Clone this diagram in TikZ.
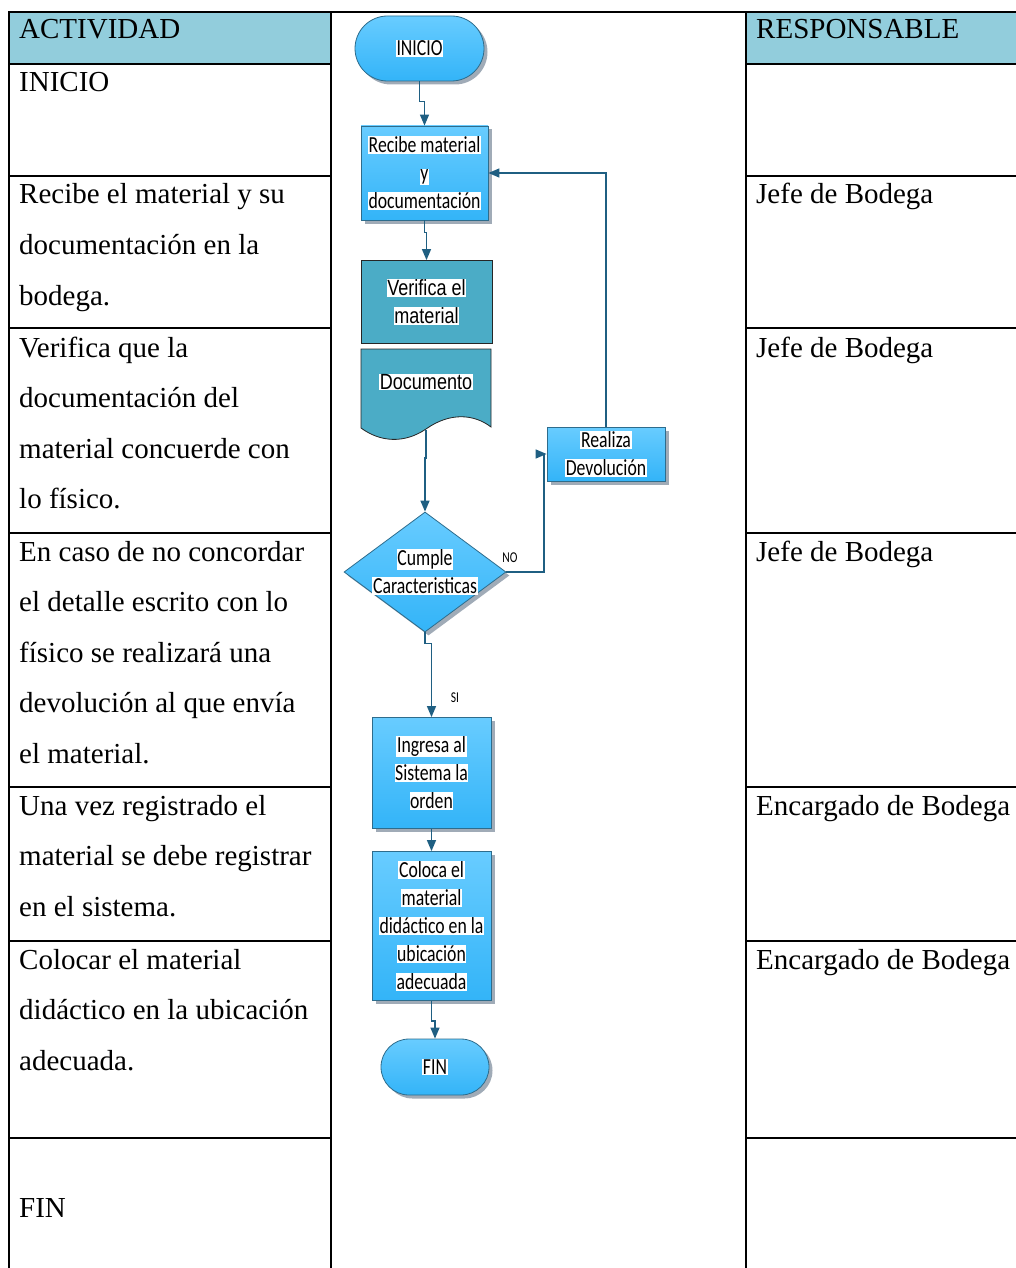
\documentclass[tikz,border=0pt]{standalone}
\usepackage{fontspec}
\setmainfont{Liberation Serif}
\newfontfamily\flowfont[FakeStretch=0.77]{Carlito}
\newfontfamily\narrowfont[FakeStretch=0.82]{Liberation Sans}
\usetikzlibrary{arrows.meta,shapes.geometric,shapes.misc,shadows}

\definecolor{headfill}{RGB}{146,205,220}
\definecolor{boxtop}{RGB}{104,204,255}
\definecolor{boxbot}{RGB}{51,180,248}
\definecolor{boxline}{RGB}{46,108,140}
\definecolor{connline}{RGB}{31,95,130}
\definecolor{tealfill}{RGB}{75,172,198}
\definecolor{shadowgrey}{RGB}{150,162,175}

\setlength{\fboxsep}{0.6pt}
\newcommand\hl[1]{\colorbox{white}{#1}}

\begin{document}
\begin{tikzpicture}[x=1pt,y=-1pt,
  tableline/.style={line width=2pt},
  celltext/.style={anchor=base west, inner sep=0pt, font=\fontsize{29}{50.6}\selectfont},
  flowtext/.style={font=\flowfont\fontsize{23}{28}\selectfont, align=center, inner sep=0pt},
  shadowed/.style={drop shadow={shadow xshift=3.5pt, shadow yshift=-3.5pt, fill=shadowgrey, opacity=0.9}},
  bluefill/.style={draw=boxline, line width=0.8pt, top color=boxtop, bottom color=boxbot, shadowed},
  bluebox/.style={flowtext, rectangle, bluefill},
  terminal/.style={flowtext, rounded rectangle, bluefill},
  tealbox/.style={rectangle, draw=black!85, line width=0.8pt, fill=tealfill, align=center, inner sep=0pt,
    font=\narrowfont\fontsize{22}{28}\selectfont},
  conn/.style={draw=connline, line width=1.4pt, -{Triangle[length=11pt,width=9pt]}},
  branchlbl/.style={font=\flowfont\fontsize{15}{18}\selectfont, inner sep=0pt}
]
\useasboundingbox (0,0) rectangle (1016,1268);

% ---- table: header fills ----
\fill[headfill] (9,12) rectangle (331,64);
\fill[headfill] (746,12) rectangle (1016,64);

% ---- table: rules ----
\draw[tableline] (8,12) -- (1016,12);
\draw[tableline] (9,12) -- (9,1268);
\draw[tableline] (331,12) -- (331,1268);
\draw[tableline] (746,12) -- (746,1268);
\foreach \yy in {64,176,328,533,787,941,1138}{
  \draw[tableline] (9,\yy) -- (331,\yy);
  \draw[tableline] (746,\yy) -- (1016,\yy);
}

% ---- table: activity column ----
\node[celltext] (acth) at (19,39) {ACTIVIDAD};
\node[celltext] (act1) at (19,92) {INICIO};
\node[celltext] (act2) at (19,204) {\parbox[t]{310pt}{Recibe el material y su\\documentación en la\\bodega.}};
\node[celltext] (act3) at (19,357) {\parbox[t]{310pt}{Verifica que la\\documentación del\\material concuerde con\\lo físico.}};
\node[celltext] (act4) at (19,561) {\parbox[t]{310pt}{En caso de no concordar\\el detalle escrito con lo\\físico se realizará una\\devolución al que envía\\el material.}};
\node[celltext] (act5) at (19,815) {\parbox[t]{310pt}{Una vez registrado el\\material se debe registrar\\en el sistema.}};
\node[celltext] (act6) at (19,969) {\parbox[t]{310pt}{Colocar el material\\didáctico en la ubicación\\adecuada.}};
\node[celltext] (act7) at (19,1217) {FIN};

% ---- table: responsible column ----
\node[celltext] (resh) at (756,39) {RESPONSABLE};
\node[celltext] (res2) at (756,204) {Jefe de Bodega};
\node[celltext] (res3) at (756,357) {Jefe de Bodega};
\node[celltext] (res4) at (756,561) {Jefe de Bodega};
\node[celltext] (res5) at (756,815) {Encargado de Bodega};
\node[celltext] (res6) at (756,969) {Encargado de Bodega};

% ---- flowchart ----
\node[terminal, minimum width=129pt, minimum height=65pt] (ini) at (419.5,48.5) {\hl{INICIO}};
\node[bluebox, minimum width=127pt, minimum height=94pt] (rec) at (424.5,173) {\hl{Recibe material}\\\hl{y}\\\hl{documentación}};
\node[tealbox, minimum width=131pt, minimum height=83pt] (ver) at (426.5,302) {\hl{Verifica el}\\\hl{material}};

% document symbol with wavy lower edge
\draw[draw=black!85, line width=0.8pt, fill=tealfill]
  (361,349) -- (491,349) -- (491,427)
  .. controls (474,414) and (450,412) .. (426,429)
  .. controls (404,444) and (380,442) .. (361,428) -- cycle;
\node[inner sep=0pt, font=\narrowfont\fontsize{22}{28}\selectfont] (doc) at (426,382) {\hl{Documento}};
\coordinate (docb) at (426,430);

\node[diamond, bluefill, minimum width=162pt, minimum height=120pt, inner sep=0pt,
  label={[flowtext]center:{\hl{Cumple}\\\hl{Caracteristicas}}}] (dia) at (425,572) {};
\node[bluebox, minimum width=118pt, minimum height=54pt] (rea) at (606,454) {\hl{Realiza}\\\hl{Devolución}};
\node[bluebox, minimum width=119pt, minimum height=111pt] (ing) at (431.5,773) {\hl{Ingresa al}\\\hl{Sistema la}\\\hl{orden}};
\node[bluebox, minimum width=119pt, minimum height=149pt] (col) at (431.5,926) {\hl{Coloca el}\\\hl{material}\\\hl{didáctico en la}\\\hl{ubicación}\\\hl{adecuada}};
\node[terminal, minimum width=108pt, minimum height=56pt] (fin) at (435,1067) {\hl{FIN}};

% ---- connectors ----
\coordinate (nocorner) at (544,572);
\draw[conn] (ini.south) -- ++(0,20) -| (rec.north);
\draw[conn] (rec.south) -- ++(0,12) -| (ver.north);
\draw[conn] (docb) -- ++(0,28) -| (dia.north);
\draw[conn] (dia.east) -- (nocorner) |- (rea.west);
\draw[conn] (rea.north) |- (rec.east);
\draw[conn] (dia.south) -- ++(0,11) -| (ing.north);
\draw[conn] (ing.south) -- (col.north);
\draw[conn] (col.south) -- ++(0,20) -| (fin.north);

\node[branchlbl] (nolbl) at (510,558) {NO};
\node[branchlbl] (silbl) at (455,698) {SI};
\end{tikzpicture}
\end{document}
